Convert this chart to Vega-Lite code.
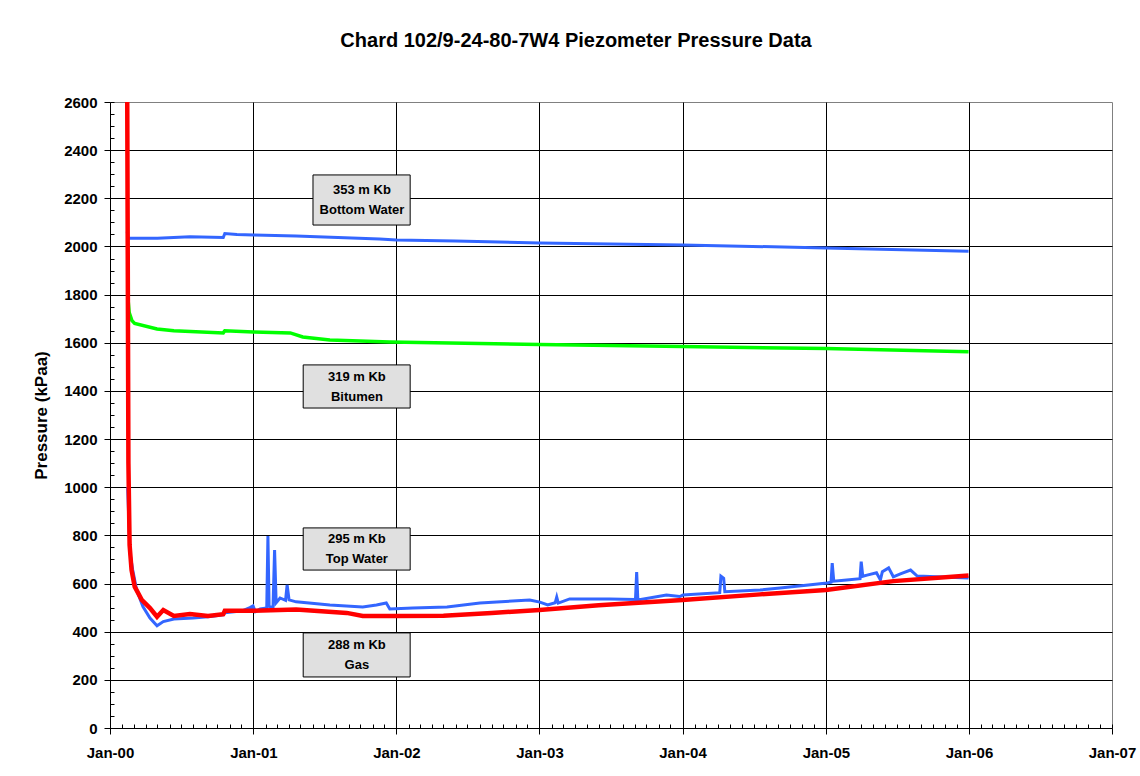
{
  "$schema": "https://vega.github.io/schema/vega-lite/v6.json",
  "width": 1002,
  "height": 626,
  "autosize": "none",
  "padding": {"left": 110, "top": 102, "right": 28, "bottom": 48},
  "background": "white",
  "title": {"text": "Chard 102/9-24-80-7W4 Piezometer Pressure Data", "font": "Liberation Sans", "fontSize": 20, "fontWeight": "bold", "color": "#000000", "anchor": "middle", "dx": -35, "offset": 28, "baseline": "alphabetic"},
  "config": {"view": {"stroke": "#808080", "strokeWidth": 1}},
  "resolve": {"axis": {"x": "independent", "y": "independent"}},
  "datasets": {
    "p": [
      {"s": "BW", "date": "2000-02-14", "kPa": 2062},
      {"s": "BW", "date": "2000-02-16", "kPa": 2034},
      {"s": "BW", "date": "2000-05-01", "kPa": 2034},
      {"s": "BW", "date": "2000-07-23", "kPa": 2040},
      {"s": "BW", "date": "2000-10-16", "kPa": 2037},
      {"s": "BW", "date": "2000-10-20", "kPa": 2054},
      {"s": "BW", "date": "2000-11-20", "kPa": 2050},
      {"s": "BW", "date": "2001-01-01", "kPa": 2048},
      {"s": "BW", "date": "2001-04-20", "kPa": 2043},
      {"s": "BW", "date": "2001-11-19", "kPa": 2031},
      {"s": "BW", "date": "2002-01-01", "kPa": 2027},
      {"s": "BW", "date": "2002-06-01", "kPa": 2023},
      {"s": "BW", "date": "2003-01-01", "kPa": 2014},
      {"s": "BW", "date": "2004-01-01", "kPa": 2006},
      {"s": "BW", "date": "2005-01-01", "kPa": 1994},
      {"s": "BW", "date": "2005-12-31", "kPa": 1980},
      {"s": "BI", "date": "2000-02-15", "kPa": 1800},
      {"s": "BI", "date": "2000-02-19", "kPa": 1725},
      {"s": "BI", "date": "2000-02-26", "kPa": 1692},
      {"s": "BI", "date": "2000-03-04", "kPa": 1680},
      {"s": "BI", "date": "2000-04-30", "kPa": 1657},
      {"s": "BI", "date": "2000-06-12", "kPa": 1650},
      {"s": "BI", "date": "2000-10-16", "kPa": 1641},
      {"s": "BI", "date": "2000-10-20", "kPa": 1650},
      {"s": "BI", "date": "2001-01-01", "kPa": 1645},
      {"s": "BI", "date": "2001-04-05", "kPa": 1641},
      {"s": "BI", "date": "2001-05-07", "kPa": 1624},
      {"s": "BI", "date": "2001-07-15", "kPa": 1612},
      {"s": "BI", "date": "2001-12-15", "kPa": 1603},
      {"s": "BI", "date": "2002-08-01", "kPa": 1597},
      {"s": "BI", "date": "2003-01-01", "kPa": 1593},
      {"s": "BI", "date": "2004-01-01", "kPa": 1584},
      {"s": "BI", "date": "2005-01-01", "kPa": 1576},
      {"s": "BI", "date": "2005-12-31", "kPa": 1563},
      {"s": "TW", "date": "2000-02-15", "kPa": 1000},
      {"s": "TW", "date": "2000-02-21", "kPa": 727},
      {"s": "TW", "date": "2000-02-28", "kPa": 656},
      {"s": "TW", "date": "2000-03-09", "kPa": 573},
      {"s": "TW", "date": "2000-03-25", "kPa": 504},
      {"s": "TW", "date": "2000-04-12", "kPa": 457},
      {"s": "TW", "date": "2000-04-30", "kPa": 425},
      {"s": "TW", "date": "2000-05-16", "kPa": 442},
      {"s": "TW", "date": "2000-06-12", "kPa": 453},
      {"s": "TW", "date": "2000-07-31", "kPa": 457},
      {"s": "TW", "date": "2000-09-07", "kPa": 462},
      {"s": "TW", "date": "2000-10-16", "kPa": 470},
      {"s": "TW", "date": "2000-10-20", "kPa": 479},
      {"s": "TW", "date": "2000-12-05", "kPa": 487},
      {"s": "TW", "date": "2000-12-23", "kPa": 500},
      {"s": "TW", "date": "2000-12-31", "kPa": 507},
      {"s": "TW", "date": "2001-01-06", "kPa": 483},
      {"s": "TW", "date": "2001-01-18", "kPa": 494},
      {"s": "TW", "date": "2001-02-04", "kPa": 498},
      {"s": "TW", "date": "2001-02-07", "kPa": 797},
      {"s": "TW", "date": "2001-02-10", "kPa": 505},
      {"s": "TW", "date": "2001-02-20", "kPa": 500},
      {"s": "TW", "date": "2001-02-24", "kPa": 739},
      {"s": "TW", "date": "2001-02-28", "kPa": 520},
      {"s": "TW", "date": "2001-03-10", "kPa": 540},
      {"s": "TW", "date": "2001-03-24", "kPa": 530},
      {"s": "TW", "date": "2001-03-28", "kPa": 594},
      {"s": "TW", "date": "2001-04-02", "kPa": 532},
      {"s": "TW", "date": "2001-04-20", "kPa": 524},
      {"s": "TW", "date": "2001-07-15", "kPa": 511},
      {"s": "TW", "date": "2001-10-07", "kPa": 503},
      {"s": "TW", "date": "2001-11-11", "kPa": 511},
      {"s": "TW", "date": "2001-12-06", "kPa": 519},
      {"s": "TW", "date": "2001-12-15", "kPa": 494},
      {"s": "TW", "date": "2002-02-12", "kPa": 498},
      {"s": "TW", "date": "2002-05-10", "kPa": 503},
      {"s": "TW", "date": "2002-08-02", "kPa": 519},
      {"s": "TW", "date": "2002-09-14", "kPa": 523},
      {"s": "TW", "date": "2002-12-07", "kPa": 532},
      {"s": "TW", "date": "2003-01-02", "kPa": 523},
      {"s": "TW", "date": "2003-01-22", "kPa": 511},
      {"s": "TW", "date": "2003-02-10", "kPa": 520},
      {"s": "TW", "date": "2003-02-14", "kPa": 544},
      {"s": "TW", "date": "2003-02-18", "kPa": 519},
      {"s": "TW", "date": "2003-03-19", "kPa": 536},
      {"s": "TW", "date": "2003-06-29", "kPa": 536},
      {"s": "TW", "date": "2003-09-03", "kPa": 534},
      {"s": "TW", "date": "2003-09-06", "kPa": 648},
      {"s": "TW", "date": "2003-09-09", "kPa": 532},
      {"s": "TW", "date": "2003-11-21", "kPa": 552},
      {"s": "TW", "date": "2003-12-25", "kPa": 546},
      {"s": "TW", "date": "2004-01-02", "kPa": 552},
      {"s": "TW", "date": "2004-04-05", "kPa": 562},
      {"s": "TW", "date": "2004-04-08", "kPa": 631},
      {"s": "TW", "date": "2004-04-15", "kPa": 622},
      {"s": "TW", "date": "2004-04-18", "kPa": 566},
      {"s": "TW", "date": "2004-07-17", "kPa": 573},
      {"s": "TW", "date": "2004-09-06", "kPa": 581},
      {"s": "TW", "date": "2005-01-04", "kPa": 602},
      {"s": "TW", "date": "2005-01-14", "kPa": 605},
      {"s": "TW", "date": "2005-01-17", "kPa": 685},
      {"s": "TW", "date": "2005-01-21", "kPa": 610},
      {"s": "TW", "date": "2005-02-23", "kPa": 615},
      {"s": "TW", "date": "2005-03-29", "kPa": 620},
      {"s": "TW", "date": "2005-04-01", "kPa": 691},
      {"s": "TW", "date": "2005-04-05", "kPa": 630},
      {"s": "TW", "date": "2005-04-16", "kPa": 635},
      {"s": "TW", "date": "2005-05-10", "kPa": 645},
      {"s": "TW", "date": "2005-05-20", "kPa": 615},
      {"s": "TW", "date": "2005-05-25", "kPa": 649},
      {"s": "TW", "date": "2005-06-10", "kPa": 665},
      {"s": "TW", "date": "2005-06-22", "kPa": 628},
      {"s": "TW", "date": "2005-07-10", "kPa": 640},
      {"s": "TW", "date": "2005-08-05", "kPa": 656},
      {"s": "TW", "date": "2005-08-22", "kPa": 631},
      {"s": "TW", "date": "2005-12-31", "kPa": 623},
      {"s": "GA", "date": "2000-02-14", "kPa": 2600},
      {"s": "GA", "date": "2000-02-17", "kPa": 1100},
      {"s": "GA", "date": "2000-02-20", "kPa": 760},
      {"s": "GA", "date": "2000-02-25", "kPa": 656},
      {"s": "GA", "date": "2000-03-04", "kPa": 587},
      {"s": "GA", "date": "2000-03-22", "kPa": 532},
      {"s": "GA", "date": "2000-04-12", "kPa": 498},
      {"s": "GA", "date": "2000-04-30", "kPa": 462},
      {"s": "GA", "date": "2000-05-16", "kPa": 490},
      {"s": "GA", "date": "2000-06-12", "kPa": 465},
      {"s": "GA", "date": "2000-07-23", "kPa": 473},
      {"s": "GA", "date": "2000-09-07", "kPa": 465},
      {"s": "GA", "date": "2000-10-16", "kPa": 473},
      {"s": "GA", "date": "2000-10-20", "kPa": 487},
      {"s": "GA", "date": "2000-12-31", "kPa": 487},
      {"s": "GA", "date": "2001-04-20", "kPa": 492},
      {"s": "GA", "date": "2001-08-27", "kPa": 478},
      {"s": "GA", "date": "2001-10-07", "kPa": 465},
      {"s": "GA", "date": "2002-01-01", "kPa": 465},
      {"s": "GA", "date": "2002-05-01", "kPa": 466},
      {"s": "GA", "date": "2002-09-01", "kPa": 478},
      {"s": "GA", "date": "2003-01-01", "kPa": 490},
      {"s": "GA", "date": "2003-06-01", "kPa": 510},
      {"s": "GA", "date": "2004-01-01", "kPa": 532},
      {"s": "GA", "date": "2004-07-17", "kPa": 555},
      {"s": "GA", "date": "2005-01-01", "kPa": 573},
      {"s": "GA", "date": "2005-06-22", "kPa": 610},
      {"s": "GA", "date": "2005-12-31", "kPa": 633}
    ],
    "boxes": [
      {"start": "2001-06-02", "end": "2002-02-05", "low": 2089, "high": 2297},
      {"start": "2001-05-08", "end": "2002-02-05", "low": 1329, "high": 1508},
      {"start": "2001-05-08", "end": "2002-02-05", "low": 656, "high": 831},
      {"start": "2001-05-08", "end": "2002-02-05", "low": 212, "high": 395}
    ],
    "labels": [
      {"date": "2001-10-05", "kPa": 2193, "label": "353 m Kb\nBottom Water"},
      {"date": "2001-09-22", "kPa": 1418, "label": "319 m Kb\nBitumen"},
      {"date": "2001-09-22", "kPa": 743, "label": "295 m Kb\nTop Water"},
      {"date": "2001-09-22", "kPa": 303, "label": "288 m Kb\nGas"}
    ]
  },
  "layer": [
    {
      "data": {"name": "p"},
      "transform": [{"filter": "datum.s == 'BW'"}],
      "mark": {"type": "line", "color": "#3366ff", "strokeWidth": 3, "clip": true},
      "encoding": {
        "x": {
          "field": "date", "type": "temporal",
          "scale": {"type": "utc", "domain": [946684800000, 1167609600000]},
          "axis": {
            "title": null, "orient": "bottom",
            "values": [946684800000, 978307200000, 1009843200000, 1041379200000, 1072915200000, 1104537600000, 1136073600000, 1167609600000],
            "labelExpr": "utcFormat(datum.value, '%b-%y')",
            "labelFont": "Liberation Sans", "labelFontSize": 15, "labelFontWeight": "bold", "labelColor": "#000000",
            "labelPadding": 11, "labelOverlap": false, "labelFlush": false,
            "domainColor": "#000000", "tickColor": "#000000", "tickSize": 6, "grid": false
          }
        },
        "y": {
          "field": "kPa", "type": "quantitative",
          "scale": {"domain": [0, 2600], "nice": false},
          "axis": {
            "title": "Pressure (kPaa)", "orient": "left",
            "titleFont": "Liberation Sans", "titleFontSize": 17, "titleFontWeight": "bold", "titleColor": "#000000", "titlePadding": 13,
            "values": [0, 200, 400, 600, 800, 1000, 1200, 1400, 1600, 1800, 2000, 2200, 2400, 2600],
            "format": "d",
            "labelFont": "Liberation Sans", "labelFontSize": 15, "labelFontWeight": "bold", "labelColor": "#000000",
            "labelPadding": 7, "labelOverlap": false, "labelFlush": false,
            "domainColor": "#000000", "tickColor": "#000000", "tickSize": 6, "grid": false
          }
        }
      }
    },
    {
      "data": {"name": "p"},
      "transform": [{"filter": "datum.s == 'BI'"}],
      "mark": {"type": "line", "color": "#00ff00", "strokeWidth": 3.5, "clip": true},
      "encoding": {
        "x": {"field": "date", "type": "temporal", "scale": {"type": "utc", "domain": [946684800000, 1167609600000]}, "axis": null},
        "y": {"field": "kPa", "type": "quantitative", "scale": {"domain": [0, 2600], "nice": false}, "axis": null}
      }
    },
    {
      "data": {"name": "p"},
      "transform": [{"filter": "datum.s == 'TW'"}],
      "mark": {"type": "line", "color": "#3366ff", "strokeWidth": 3, "clip": true},
      "encoding": {
        "x": {"field": "date", "type": "temporal", "scale": {"type": "utc", "domain": [946684800000, 1167609600000]}, "axis": null},
        "y": {"field": "kPa", "type": "quantitative", "scale": {"domain": [0, 2600], "nice": false}, "axis": null}
      }
    },
    {
      "data": {"name": "p"},
      "transform": [{"filter": "datum.s == 'GA'"}],
      "mark": {"type": "line", "color": "#ff0000", "strokeWidth": 4.5, "clip": true},
      "encoding": {
        "x": {"field": "date", "type": "temporal", "scale": {"type": "utc", "domain": [946684800000, 1167609600000]}, "axis": null},
        "y": {"field": "kPa", "type": "quantitative", "scale": {"domain": [0, 2600], "nice": false}, "axis": null}
      }
    },
    {
      "data": {"name": "boxes"},
      "mark": {"type": "rect", "fill": "#e0e0e0", "stroke": "#000000", "strokeWidth": 1},
      "encoding": {
        "x": {
          "field": "start", "type": "temporal", "scale": {"type": "utc", "domain": [946684800000, 1167609600000]},
          "axis": {"title": null, "orient": "bottom", "tickCount": {"interval": "month", "step": 1}, "labels": false, "domain": false, "grid": false, "ticks": true, "tickSize": -4, "tickColor": "#000000"}
        },
        "x2": {"field": "end"},
        "y": {
          "field": "low", "type": "quantitative", "scale": {"domain": [0, 2600], "nice": false},
          "axis": {"title": null, "orient": "left", "values": [0,50,100,150,200,250,300,350,400,450,500,550,600,650,700,750,800,850,900,950,1000,1050,1100,1150,1200,1250,1300,1350,1400,1450,1500,1550,1600,1650,1700,1750,1800,1850,1900,1950,2000,2050,2100,2150,2200,2250,2300,2350,2400,2450,2500,2550,2600], "labels": false, "domain": false, "grid": false, "ticks": true, "tickSize": -4, "tickColor": "#000000"}
        },
        "y2": {"field": "high"}
      }
    },
    {
      "data": {"name": "labels"},
      "mark": {"type": "text", "font": "Liberation Sans", "fontSize": 13, "fontWeight": "bold", "color": "#000000", "align": "center", "baseline": "middle", "lineBreak": "\n", "lineHeight": 20, "dy": -10},
      "encoding": {
        "x": {
          "field": "date", "type": "temporal", "scale": {"type": "utc", "domain": [946684800000, 1167609600000]},
          "axis": {"title": null, "orient": "bottom", "values": [978307200000, 1009843200000, 1041379200000, 1072915200000, 1104537600000, 1136073600000], "labels": false, "domain": false, "ticks": false, "grid": true, "gridColor": "#000000", "gridWidth": 1}
        },
        "y": {
          "field": "kPa", "type": "quantitative", "scale": {"domain": [0, 2600], "nice": false},
          "axis": {"title": null, "orient": "left", "values": [200, 400, 600, 800, 1000, 1200, 1400, 1600, 1800, 2000, 2200, 2400], "labels": false, "domain": false, "ticks": false, "grid": true, "gridColor": "#000000", "gridWidth": 1}
        },
        "text": {"field": "label"}
      }
    }
  ]
}
